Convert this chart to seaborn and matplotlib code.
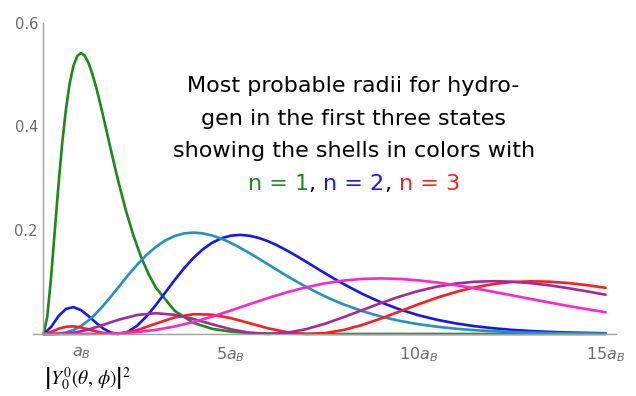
import numpy as np
import pandas as pd
import matplotlib
matplotlib.use('Agg')
import matplotlib.pyplot as plt
import seaborn as sns

# radius in units of a_B, n = 1 curve sampled finer around its peak
r_1 = [0, 0.1, 0.2, 0.3, 0.4, 0.5, 0.6, 0.7, 0.8, 0.9, 1.0, 1.1, 1.2, 1.3, 1.4,
       1.5, 1.6, 1.7, 1.8, 1.9, 2.0, 2.2, 2.4, 2.6, 2.8, 3.0, 3.5, 4.0, 4.5,
       5.0, 5.5, 6.0, 7.0, 8.0, 10.0, 15.0]
p_1s = [0, 0.0328, 0.1073, 0.1976, 0.2876, 0.3679, 0.4337, 0.4833, 0.5169,
        0.5356, 0.5413, 0.5363, 0.5225, 0.5021, 0.4768, 0.4481, 0.4174, 0.3858,
        0.3541, 0.3230, 0.2931, 0.2377, 0.1896, 0.1492, 0.1160, 0.0892, 0.0447,
        0.0215, 0.0100, 0.0045, 0.0020, 0.0009, 0.0002, 0.0, 0.0, 0.0]

# radius for the n = 2 curves
r_2 = [0, 0.2, 0.4, 0.6, 0.8, 1.0, 1.2, 1.4, 1.6, 1.8, 2.0,
       2.25, 2.5, 2.75, 3.0, 3.25, 3.5, 3.75, 4.0, 4.25, 4.5, 4.75, 5.0,
       5.25, 5.5, 5.75, 6.0, 6.25, 6.5, 6.75, 7.0, 7.25, 7.5, 7.75, 8.0,
       8.5, 9.0, 9.5, 10.0, 10.5, 11.0, 11.5, 12.0, 12.5, 13.0, 13.5, 14.0,
       14.5, 15.0]
p_2s = [0, 0.0133, 0.0343, 0.0484, 0.0518, 0.0460, 0.0347, 0.0218, 0.0103,
        0.0027, 0.0,
        0.0042, 0.0160, 0.0340, 0.0560, 0.0800, 0.1040, 0.1266, 0.1465,
        0.1630, 0.1758, 0.1845, 0.1895, 0.1910, 0.1893, 0.1850, 0.1785,
        0.1703, 0.1608, 0.1505, 0.1396, 0.1286, 0.1176, 0.1069, 0.0966,
        0.0776, 0.0612, 0.0475, 0.0363, 0.0274, 0.0205, 0.0151, 0.0111,
        0.0080, 0.0058, 0.0041, 0.0029, 0.0021, 0.0015]
p_2p = [0, 0.0001, 0.0007, 0.0030, 0.0077, 0.0153, 0.0260, 0.0395, 0.0551,
        0.0723, 0.0902,
        0.1126, 0.1336, 0.1523, 0.1680, 0.1802, 0.1888, 0.1938, 0.1954,
        0.1939, 0.1898, 0.1835, 0.1755, 0.1661, 0.1558, 0.1450, 0.1339,
        0.1227, 0.1118, 0.1013, 0.0912, 0.0818, 0.0729, 0.0648, 0.0573,
        0.0443, 0.0337, 0.0254, 0.0189, 0.0140, 0.0102, 0.0074, 0.0053,
        0.0038, 0.0027, 0.0019, 0.0013, 0.0009, 0.0007]

# radius for the n = 3 curves
r_3 = [0, 0.2, 0.4, 0.6, 0.8, 1.0, 1.2, 1.4, 1.6, 1.8, 2.0, 2.5, 3.0, 3.5, 4.0,
       4.5, 5.0, 5.5, 6.0, 6.5, 7.0, 7.5, 8.0, 8.5, 9.0, 9.5, 10.0, 10.5, 11.0,
       11.5, 12.0, 12.5, 13.0, 13.5, 14.0, 14.5, 15.0]
p_3s = [0, 0.0039, 0.0101, 0.0140, 0.0147, 0.0126, 0.0090, 0.0051, 0.0020,
        0.0002, 0.0002, 0.0073, 0.0201, 0.0319, 0.0382, 0.0373, 0.0306, 0.0208,
        0.0109, 0.0034, 0.0001, 0.0016, 0.0076, 0.0174, 0.0297, 0.0434, 0.0571,
        0.0699, 0.0810, 0.0898, 0.0962, 0.1001, 0.1015, 0.1008, 0.0982, 0.0942,
        0.0890]
p_3p = [0, 0.0000, 0.0003, 0.0010, 0.0026, 0.0052, 0.0087, 0.0130, 0.0177,
        0.0227, 0.0274, 0.0367, 0.0401, 0.0370, 0.0289, 0.0187, 0.0091, 0.0024,
        0.0, 0.0024, 0.0092, 0.0195, 0.0322, 0.0459, 0.0595, 0.0720, 0.0828,
        0.0912, 0.0972, 0.1007, 0.1018, 0.1008, 0.0980, 0.0937, 0.0884, 0.0822,
        0.0757]
p_3d = [0, 0.0, 0.0, 0.0, 0.0, 0.0000, 0.0001, 0.0002, 0.0005, 0.0008, 0.0014,
        0.0037, 0.0080, 0.0145, 0.0231, 0.0336, 0.0453, 0.0575, 0.0695, 0.0805,
        0.0899, 0.0975, 0.1029, 0.1061, 0.1071, 0.1061, 0.1034, 0.0993, 0.0941,
        0.0880, 0.0814, 0.0745, 0.0676, 0.0607, 0.0541, 0.0479, 0.0420]

x_ticks = [1, 5, 10, 15]
x_tick_labels = ['$a_B$', '$5a_B$', '$10a_B$', '$15a_B$']
y_ticks = [0.2, 0.4, 0.6]
y_tick_labels = ['0.2', '0.4', '0.6']

sns.set_theme(style='white')
plt.rcParams['font.family'] = ['DejaVu Sans']

fig = plt.figure(figsize=(6.36, 3.96), dpi=100)
ax = fig.add_axes([33 / 636, 62 / 396, 582.7 / 636, 311.4 / 396])

curves = [
    (r_1, p_1s, '#1b8a1b'),
    (r_2, p_2s, '#1414ff'),
    (r_2, p_2p, '#2192c4'),
    (r_3, p_3s, '#ff1c1c'),
    (r_3, p_3p, '#a8289c'),
    (r_3, p_3d, '#ff26c8'),
]
for xs, ys, c in curves:
    sns.lineplot(x=xs, y=ys, color=c, linewidth=1.9, ax=ax, clip_on=False,
                 solid_joinstyle='round', solid_capstyle='round')

ax.set_xlim(-0.28, 15.27)
ax.set_ylim(0, 0.6)
ax.set_xticks(x_ticks)
ax.set_xticklabels(x_tick_labels)
ax.set_yticks(y_ticks)
ax.set_yticklabels(y_tick_labels)

for s in ['top', 'right']:
    ax.spines[s].set_visible(False)
ax.spines['left'].set_position(('data', 0))
ax.spines['left'].set_bounds(0, 0.6)
for s in ['left', 'bottom']:
    ax.spines[s].set_color('#a0a0a0')
    ax.spines[s].set_linewidth(1.0)
ax.tick_params(direction='in', length=4, width=1, color='#a0a0a0',
               labelcolor='#6a6a6a', labelsize=10.5)
ax.tick_params(axis='x', pad=8, labelsize=11.5)
ax.tick_params(axis='y', pad=4)
ax.set_xlabel('')
ax.set_ylabel('')

fig.text(44 / 636, 1 - 385 / 396, r'$\left|Y_0^0(\theta,\,\phi)\right|^2$',
         fontsize=14, color='black', math_fontfamily='stix', va='baseline')

# annotation text
fs = 16
lines = ['Most probable radii for hydro-', 'gen in the first three states',
         'showing the shells in colors with']
baselines = [92, 125, 157]
for s, yb in zip(lines, baselines):
    fig.text(0.556, 1 - yb / 396, s, fontsize=fs, ha='center', va='baseline',
             color='black')

pieces = [('n = 1', '#1b8a1b'), (', ', 'black'), ('n = 2', '#1414ff'),
          (', ', 'black'), ('n = 3', '#ff1c1c')]
texts = [fig.text(0, 1 - 190 / 396, s, color=c, fontsize=fs, va='baseline')
         for s, c in pieces]
fig.canvas.draw()
rend = fig.canvas.get_renderer()
widths = [t.get_window_extent(rend).width for t in texts]
x = 354 - sum(widths) / 2
for t, w in zip(texts, widths):
    t.set_x(x / 636)
    x += w

fig.savefig('out.png', dpi=100)
